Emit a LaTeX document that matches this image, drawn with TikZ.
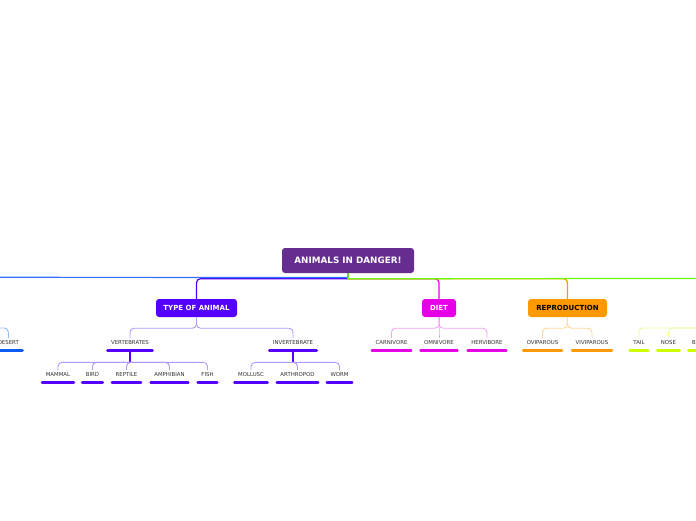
\documentclass[tikz,border=0pt]{standalone}
\usepackage{fontspec}
\setmainfont{DejaVu Sans}
\usetikzlibrary{positioning}
\definecolor{rootc}{HTML}{662D91}
\definecolor{typec}{HTML}{5500FF}
\definecolor{typel}{HTML}{B399FF}
\definecolor{dietc}{HTML}{E600E6}
\definecolor{dietl}{HTML}{F5A3F5}
\definecolor{reproc}{HTML}{FF9900}
\definecolor{reprol}{HTML}{FFD699}
\definecolor{bluec}{HTML}{0A5CF5}
\definecolor{bluem}{HTML}{2F72FF}
\definecolor{bluel}{HTML}{99BBFF}
\definecolor{greenm}{HTML}{66FF00}
\definecolor{greenc}{HTML}{CCFF00}
\definecolor{greenl}{HTML}{E6FF99}
\tikzset{main/.style={fill=#1,rounded corners=3pt,text=white,font=\fontsize{7}{8}\selectfont\bfseries,minimum height=18pt,inner sep=0pt}}
\tikzset{leaf/.style={font=\fontsize{5.4}{6}\selectfont,text=black!80,text height=4pt,text depth=3pt,inner xsep=3.5pt,inner ysep=2.5pt,anchor=base,append after command={(\tikzlastnode.south west) edge[line width=2.5pt,line cap=round,draw=#1] (\tikzlastnode.south east)}}}
\tikzset{branch/.style={draw=#1,line width=1.2pt}}
\tikzset{twig/.style={draw=#1,line width=0.9pt,rounded corners=4pt}}
\tikzset{stem/.style={draw=#1,line width=1.6pt}}

\begin{document}
\begin{tikzpicture}[x=1pt,y=-1pt]
    \useasboundingbox[fill=white] (0,0) rectangle (696,520);
    \clip (0,0) rectangle (696,520);

    % main topic and branches
    \node[main=rootc,minimum width=132pt,minimum height=25pt,font=\fontsize{8.8}{10}\selectfont\bfseries] (root) at (348,260.5) {ANIMALS IN DANGER!};
    \node[main=typec,minimum width=81pt] (type) at (196.5,308) {TYPE OF ANIMAL};
    \node[main=dietc,minimum width=34pt] (diet) at (439,308) {DIET};
    \node[main=reproc,minimum width=79pt,text=black] (repro) at (567.5,308) {REPRODUCTION};
    \coordinate (blueend) at (-20,277.3);
    \coordinate (greenend) at (720,278.5);
        \path[branch=typec] (root.south) -- ++(0,5.5) [rounded corners=4pt] -| (type.north);
        \path[branch=dietc] (root.south) -- ++(0,5.5) [rounded corners=4pt] -| (diet.north);
        \path[branch=reproc] (root.south) -- ++(0,5.5) [rounded corners=4pt] -| (repro.north);
        \path[branch=bluem] (root.south) -- ++(0,4.3) -- (blueend);
        \path[branch=greenm] (root.south) -- ++(0,5.5) -- (greenend);

    % type of animal
    \node[leaf=typec] (vert) at (130,344.7) {VERTEBRATES};
    \node[leaf=typec] (invert) at (293,344.7) {INVERTEBRATE};
        \path[twig=typel] (type.south) -- ++(0,11) -| (vert.north);
        \path[twig=typel] (type.south) -- ++(0,11) -| (invert.north);
    \node[leaf=typec] (mammal) at (58,376.7) {MAMMAL};
    \node[leaf=typec] (bird) at (92.5,376.7) {BIRD};
    \node[leaf=typec] (reptile) at (126.5,376.7) {REPTILE};
    \node[leaf=typec] (amphibian) at (169.5,376.7) {AMPHIBIAN};
    \node[leaf=typec] (fish) at (207.5,376.7) {FISH};
        \path[stem=typec] (vert.south) -- ++(0,12) coordinate (verthub);
        \foreach \n in {mammal,bird,reptile,amphibian,fish}
            \path[twig=typel] (verthub) -| (\n.north);
    \node[leaf=typec] (mollusc) at (251,376.7) {MOLLUSC};
    \node[leaf=typec] (arthropod) at (297.5,376.7) {ARTHROPOD};
    \node[leaf=typec] (worm) at (339.5,376.7) {WORM};
        \path[stem=typec] (invert.south) -- ++(0,12) coordinate (inverthub);
        \foreach \n in {mollusc,arthropod,worm}
            \path[twig=typel] (inverthub) -| (\n.north);

    % diet
    \node[leaf=dietc] (carnivore) at (391.5,344.7) {CARNIVORE};
    \node[leaf=dietc] (omnivore) at (439,344.7) {OMNIVORE};
    \node[leaf=dietc] (hervibore) at (487,344.7) {HERVIBORE};
        \foreach \n in {carnivore,omnivore,hervibore}
            \path[twig=dietl] (diet.south) -- ++(0,11) -| (\n.north);

    % reproduction
    \node[leaf=reproc] (oviparous) at (542.5,344.7) {OVIPAROUS};
    \node[leaf=reproc] (viviparous) at (592,344.7) {VIVIPAROUS};
        \foreach \n in {oviparous,viviparous}
            \path[twig=reprol] (repro.south) -- ++(0,11) -| (\n.north);

    % branches cut by the edges
    \node[leaf=bluec] (desert) at (8.3,344.7) {DESERT};
    \coordinate (bluehub) at (-30,328);
        \path[twig=bluel] (bluehub) -| (desert.north);
    \node[leaf=greenc] (tail) at (639,344.7) {TAIL};
    \node[leaf=greenc] (nose) at (668.5,344.7) {NOSE};
    \node[leaf=greenc] (beak) at (699.2,344.7) {BEAK};
    \coordinate (greenhub) at (760,328);
        \foreach \n in {tail,nose,beak}
            \path[twig=greenl] (greenhub) -| (\n.north);

\end{tikzpicture}
\end{document}
